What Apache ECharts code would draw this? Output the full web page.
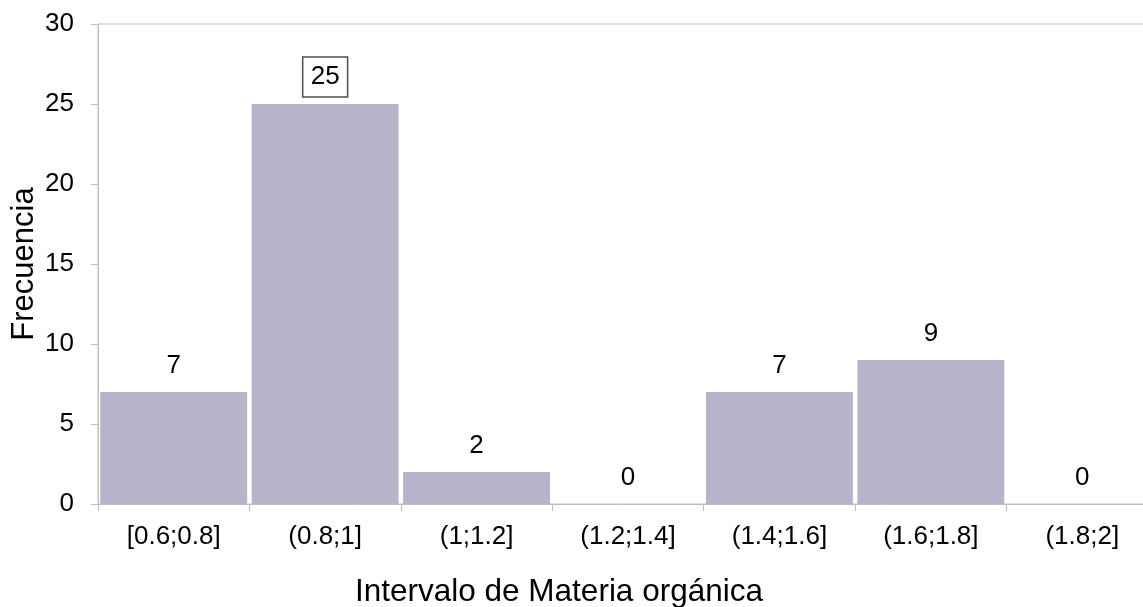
<!DOCTYPE html>
<html>
<head>
<meta charset="utf-8">
<script src="https://cdn.jsdelivr.net/npm/echarts@6/dist/echarts.min.js"></script>
<style>
  html, body { margin: 0; padding: 0; background: #ffffff; }
  #chart { width: 1143px; height: 607px; }
</style>
</head>
<body>
<div id="chart"></div>
<script>
// Frequency of soil organic matter by interval
const categories = ['[0.6;0.8]', '(0.8;1]', '(1;1.2]', '(1.2;1.4]', '(1.4;1.6]', '(1.6;1.8]', '(1.8;2]'];
const frequencies = [7, 25, 2, 0, 7, 9, 0];
const highlightedIndex = 1; // the modal class gets a boxed label
const yTicks = { min: 0, max: 30, interval: 5 };

const FONT = '"Liberation Sans", Arial, sans-serif';
const AXIS_GRAY = '#bfbfbf';

const chart = echarts.init(document.getElementById('chart'), null, { renderer: 'canvas' });

const barData = frequencies.map((v, i) => {
  if (i !== highlightedIndex) return v;
  return {
    value: v,
    label: {
      borderColor: '#4d4d4d',
      borderWidth: 1.5,
      padding: [7, 8, 7, 8],
      distance: 7
    }
  };
});

chart.setOption({
  animation: false,
  backgroundColor: '#ffffff',
  textStyle: { fontFamily: FONT },
  title: {
    text: 'Intervalo de Materia orgánica',
    left: 355,
    top: 576,
    padding: 0,
    textStyle: { fontFamily: FONT, fontSize: 31.5, fontWeight: 'normal', color: '#000000' }
  },
  grid: {
    left: 98,
    top: 24,
    width: 1060,
    height: 480,
    containLabel: false,
    outerBoundsMode: 'none',
    show: true,
    borderColor: AXIS_GRAY,
    borderWidth: 1,
    backgroundColor: 'transparent'
  },
  xAxis: {
    type: 'category',
    data: categories,
    axisLine: { show: true, lineStyle: { color: AXIS_GRAY, width: 1 } },
    axisTick: { show: true, alignWithLabel: false, length: 7, lineStyle: { color: AXIS_GRAY } },
    axisLabel: { fontFamily: FONT, fontSize: 26, color: '#000000', margin: 20, interval: 0 },
    splitLine: { show: false }
  },
  yAxis: {
    type: 'value',
    min: yTicks.min,
    max: yTicks.max,
    interval: yTicks.interval,
    name: 'Frecuencia',
    nameLocation: 'middle',
    nameRotate: 90,
    nameGap: 58,
    nameMoveOverlap: false,
    nameTextStyle: { fontFamily: FONT, fontSize: 31, color: '#000000' },
    axisLine: { show: true, lineStyle: { color: AXIS_GRAY, width: 1 } },
    axisTick: { show: true, length: 7, lineStyle: { color: AXIS_GRAY } },
    axisLabel: { fontFamily: FONT, fontSize: 26, color: '#000000', margin: 24 },
    splitLine: { show: false }
  },
  series: [{
    type: 'bar',
    data: barData,
    barCategoryGap: '3%',
    itemStyle: { color: '#b6b3cb' },
    label: {
      show: true,
      position: 'top',
      distance: 13,
      fontFamily: FONT,
      fontSize: 26,
      color: '#000000'
    }
  }]
});
</script>
</body>
</html>
